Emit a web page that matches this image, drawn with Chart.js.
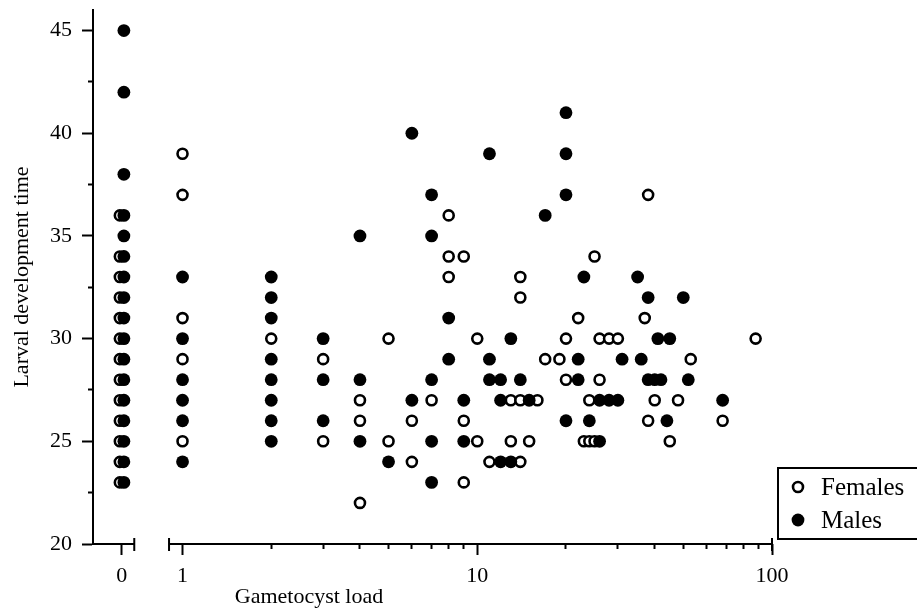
<!DOCTYPE html>
<html lang="en">
<head>
 <meta charset="UTF-8">
 <title>Larval development time vs gametocyst load</title>
 <script src="https://cdn.jsdelivr.net/npm/chart.js"></script>
 <style>
 body {
 margin: 0;
 background: #fff;
 }
 #wrap {
 width: 917px;
 height: 611px;
 }
 </style>
</head>
<body>
 <div id="wrap"><canvas id="loadChart" width="917" height="611"></canvas></div>
 <script>
 // one entry per larva: gametocyst load (0 = none) and development time
 const femaleLoad = [0, 0, 0, 0, 0, 0, 0, 0, 0, 0, 0, 0, 0,
   1, 1, 1, 1, 1,
   2,
   3, 3,
   4, 4, 4,
   5, 5,
   6, 6,
   7,
   8, 8, 8,
   9, 9, 9,
   10, 10,
   11,
   13, 13,
   14, 14, 14, 14,
   15,
   16,
   17,
   19,
   20, 20,
   22,
   23,
   24, 24,
   25, 25,
   26, 26,
   28,
   30,
   37,
   38, 38,
   40,
   45,
   48,
   53,
   68,
   88];
 const femaleTime = [36, 34, 33, 32, 31, 30, 29, 28, 27, 26, 25, 24, 23,
   39, 37, 31, 29, 25,
   30,
   29, 25,
   27, 26, 22,
   30, 25,
   26, 24,
   27,
   36, 34, 33,
   34, 26, 23,
   30, 25,
   24,
   27, 25,
   33, 32, 27, 24,
   25,
   27,
   29,
   29,
   30, 28,
   31,
   25,
   27, 25,
   34, 25,
   30, 28,
   30,
   30,
   31,
   37, 26,
   27,
   25,
   27,
   29,
   26,
   30];

 const maleLoad = [0, 0, 0, 0, 0, 0, 0, 0, 0, 0, 0, 0, 0, 0, 0, 0, 0,
   1, 1, 1, 1, 1, 1,
   2, 2, 2, 2, 2, 2, 2, 2,
   3, 3, 3,
   4, 4, 4,
   5,
   6, 6,
   7, 7, 7, 7, 7,
   8, 8,
   9, 9,
   11, 11, 11,
   12, 12, 12,
   13, 13,
   14,
   15,
   17,
   20, 20, 20, 20,
   22, 22,
   23,
   24,
   26, 26,
   28,
   30,
   31,
   35,
   36,
   38, 38,
   40,
   41,
   42,
   44,
   45,
   50,
   52,
   68];
 const maleTime = [45, 42, 38, 36, 35, 34, 33, 32, 31, 30, 29, 28, 27, 26, 25, 24, 23,
   33, 30, 28, 27, 26, 24,
   33, 32, 31, 29, 28, 27, 26, 25,
   30, 28, 26,
   35, 28, 25,
   24,
   40, 27,
   37, 35, 28, 25, 23,
   31, 29,
   27, 25,
   39, 29, 28,
   28, 27, 24,
   30, 24,
   28,
   27,
   36,
   41, 39, 37, 26,
   29, 28,
   33,
   26,
   27, 25,
   27,
   27,
   29,
   33,
   29,
   32, 28,
   28,
   30,
   28,
   26,
   30,
   32,
   28,
   27];

 const timeTicks = [20, 22.5, 25, 27.5, 30, 32.5, 35, 37.5, 40, 42.5, 45];
 const timeLabels = [20, 25, 30, 35, 40, 45];
 const loadTicks = [1, 2, 3, 4, 5, 6, 7, 8, 9, 10, 20, 30, 40, 50, 60, 70, 80, 90, 100];
 const loadLabels = [1, 10, 100];

 const serif = "'Liberation Serif', 'Times New Roman', serif";
 Chart.defaults.font.family = serif;
 Chart.defaults.color = '#000';

 // the two sexes sit side by side in the zero column
 const zeroDodge = 0.07;

 function points(loads, times, zero, shift) {
   let pts = [];
   loads.forEach((load, i) => {
     if ((load === 0) === zero) {
       pts.push({ x: zero ? load + shift : load, y: times[i] });
     }
   });
   return pts;
 }

 const femaleStyle = {
   label: 'Females',
   order: 1,
   pointRadius: 5,
   pointBorderWidth: 2.6,
   pointBackgroundColor: '#fff',
   pointBorderColor: '#000'
 };
 const maleStyle = {
   label: 'Males',
   order: 0,
   pointRadius: 6.4,
   pointBorderWidth: 0,
   pointBackgroundColor: '#000',
   pointBorderColor: '#000'
 };

 // short ticks for the unlabelled positions
 function minorDash(labels, inner) {
   return ctx => labels.includes(ctx.tick.value) ? [] : (inner ? [5, 40] : [0, 6, 5, 40]);
 }

 // broken x axis, legend box and x title
 const frame = {
   id: 'frame',
   afterDraw(chart) {
     let ctx = chart.ctx;
     let area = chart.chartArea;
     let x0 = chart.scales.x0;
     let x = chart.scales.x;
     let base = area.bottom;
     ctx.save();
     ctx.strokeStyle = '#000';
     ctx.lineWidth = 2;
     let zeroEnd = x0.getPixelForValue(0.43);
     let logStart = x.getPixelForValue(0.9);
     let logEnd = x.getPixelForValue(100);
     ctx.beginPath();
     ctx.moveTo(area.left, base);
     ctx.lineTo(zeroEnd, base);
     ctx.moveTo(logStart, base);
     ctx.lineTo(logEnd, base);
     [zeroEnd, logStart, logEnd].forEach(px => {
       ctx.moveTo(px, base - 6);
       ctx.lineTo(px, base + 7);
     });
     ctx.stroke();

     // legend
     ctx.strokeRect(778, 468, 160, 71);
     let rows = [[femaleStyle, 487], [maleStyle, 520]];
     rows.forEach(([st, y]) => {
       ctx.beginPath();
       ctx.arc(798, y, st.pointRadius, 0, Math.PI * 2);
       ctx.fillStyle = st.pointBackgroundColor;
       ctx.fill();
       if (st.pointBorderWidth) {
         ctx.lineWidth = st.pointBorderWidth;
         ctx.stroke();
       }
       ctx.fillStyle = '#000';
       ctx.font = '25px ' + serif;
       ctx.textAlign = 'left';
       ctx.textBaseline = 'middle';
       ctx.fillText(st.label, 821, y + 1);
     });

     ctx.font = '22px ' + serif;
     ctx.textAlign = 'center';
     ctx.textBaseline = 'middle';
     ctx.fillText('Gametocyst load', 309, 597);
     ctx.restore();
   }
 };

 new Chart(document.getElementById('loadChart'), {
   type: 'scatter',
   data: {
     datasets: [
       { ...femaleStyle, xAxisID: 'x', data: points(femaleLoad, femaleTime, false, 0) },
       { ...femaleStyle, xAxisID: 'x0', data: points(femaleLoad, femaleTime, true, -zeroDodge) },
       { ...maleStyle, xAxisID: 'x', data: points(maleLoad, maleTime, false, 0) },
       { ...maleStyle, xAxisID: 'x0', data: points(maleLoad, maleTime, true, zeroDodge) }
     ]
   },
   options: {
     responsive: false,
     animation: false,
     events: [],
     layout: { padding: { left: 0, top: 10, right: 145, bottom: 0 } },
     plugins: {
       legend: { display: false },
       tooltip: { enabled: false }
     },
     scales: {
       y: {
         type: 'linear',
         position: 'left',
         min: 20,
         max: 46,
         afterBuildTicks: scale => { scale.ticks = timeTicks.map(v => ({ value: v })); },
         afterFit: scale => {
           scale.width = 93;
           // the top label sits well below the axis end, no extra room needed
           scale.paddingTop = 0;
           scale.paddingBottom = 0;
         },
         ticks: {
           autoSkip: false,
           padding: 10,
           font: { size: 22 },
           callback: v => timeLabels.includes(v) ? String(v) : ''
         },
         grid: {
           drawOnChartArea: false,
           tickLength: 11,
           tickWidth: 2,
           tickColor: '#000',
           tickBorderDash: minorDash(timeLabels, false)
         },
         border: { color: '#000', width: 2 },
         title: {
           display: true,
           text: 'Larval development time',
           font: { size: 22 },
           padding: { top: 9, bottom: 0 }
         }
       },
       x0: {
         type: 'linear',
         position: 'bottom',
         stack: 'load',
         stackWeight: 0.085,
         weight: 0,
         min: -1,
         max: 1,
         afterBuildTicks: scale => { scale.ticks = [{ value: 0 }]; },
         afterFit: scale => { scale.height = 67; },
         ticks: {
           autoSkip: false,
           maxRotation: 0,
           padding: 8,
           font: { size: 22 },
           callback: () => '0'
         },
         grid: {
           drawOnChartArea: false,
           tickLength: 11,
           tickWidth: 2,
           tickColor: '#000'
         },
         border: { display: false }
       },
       x: {
         type: 'logarithmic',
         position: 'bottom',
         stack: 'load',
         stackWeight: 0.915,
         weight: 1,
         min: 0.78,
         max: 100,
         afterBuildTicks: scale => { scale.ticks = loadTicks.map(v => ({ value: v })); },
         afterFit: scale => { scale.height = 67; },
         ticks: {
           autoSkip: false,
           maxRotation: 0,
           padding: 8,
           font: { size: 22 },
           callback: v => loadLabels.includes(v) ? String(v) : ''
         },
         grid: {
           drawOnChartArea: false,
           tickLength: 11,
           tickWidth: 2,
           tickColor: '#000',
           tickBorderDash: minorDash(loadLabels, true)
         },
         border: { display: false }
       }
     }
   },
   plugins: [frame]
 });
 </script>
</body>
</html>
